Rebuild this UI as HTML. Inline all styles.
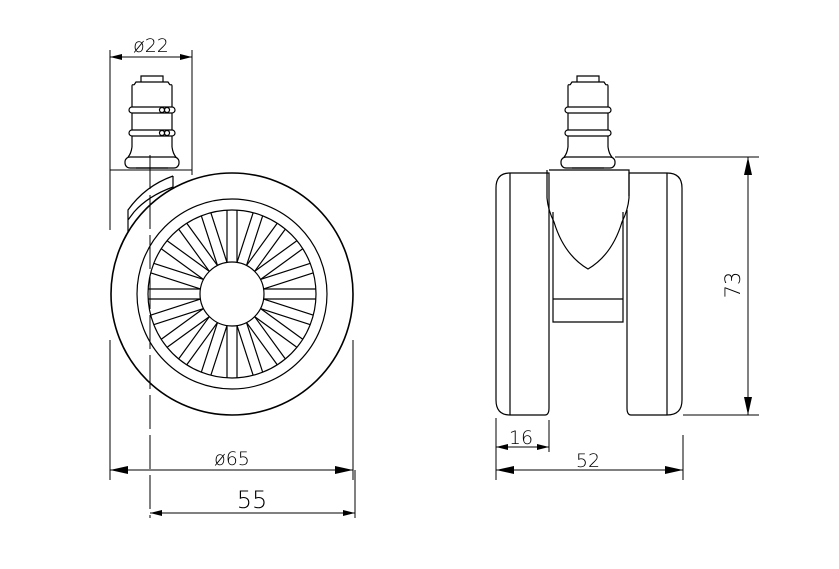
<!DOCTYPE html>
<html><head><meta charset="utf-8"><style>
html,body{margin:0;padding:0;background:#fff;}
svg{display:block;}
text{font-family:"DejaVu Sans","Liberation Sans",sans-serif;fill:#000;font-weight:200;}
</style></head><body>
<svg width="839" height="569" viewBox="0 0 839 569" xmlns="http://www.w3.org/2000/svg">
<defs>
<marker id="ar" viewBox="0 0 12 6" refX="12" refY="3" markerWidth="12" markerHeight="6" orient="auto-start-reverse" markerUnits="userSpaceOnUse"><path d="M0,0 L12,3 L0,6 z" fill="#000"/></marker>
<marker id="ar2" viewBox="0 0 18 8" refX="18" refY="4" markerWidth="18" markerHeight="8" orient="auto-start-reverse" markerUnits="userSpaceOnUse"><path d="M0,0 L18,4 L0,8 z" fill="#000"/></marker>
<g id="sp"><line x1="-5" y1="-32" x2="-5" y2="-84"/><line x1="5" y1="-32" x2="5" y2="-84"/></g>
<g id="stem">
<path d="M-11,82 L-11,76 L11,76 L11,82"/>
<path d="M-18,85 L-16,82 L16,82 L18,85"/>
<path d="M-20,86 L-20,107 M20,86 L20,107 M-20,113 L-20,130 M20,113 L20,130 M-20,136 L-20,147 M20,136 L20,147"/>
<path d="M-20,86 Q-20,84 -18,85 M20,86 Q20,84 18,85"/>
<rect x="-23" y="107" width="46" height="6" rx="3"/>
<rect x="-23" y="130" width="46" height="6" rx="3"/>
<path d="M-20,147 Q-21,154 -24,157 M20,147 Q21,154 24,157"/>
<rect x="-27" y="157" width="54" height="11" rx="5"/>
<line x1="-16" y1="168" x2="16" y2="168"/>
</g>
</defs>
<g fill="none" stroke="#000" stroke-width="1.2">
<use href="#stem" transform="translate(152,0)"/>
<circle cx="162" cy="110" r="2.5"/><circle cx="167" cy="110" r="2.5"/>
<circle cx="162" cy="133" r="2.5"/><circle cx="167" cy="133" r="2.5"/>
<line x1="110" y1="50" x2="110" y2="175" stroke-width="1"/>
<line x1="192" y1="50" x2="192" y2="175" stroke-width="1"/>
<line x1="110" y1="57" x2="192" y2="57" stroke-width="1" marker-start="url(#ar)" marker-end="url(#ar)"/>
<line x1="110" y1="170" x2="192" y2="170" stroke-width="1"/>
<path d="M173,176 L173,187 Q148,196 134,212 L128,220 L128,232 M173,176 Q145,186 128,210 L128,220"/>
<circle cx="232" cy="294" r="121" stroke-width="1.6"/>
<circle cx="232" cy="294" r="95"/>
<circle cx="232" cy="294" r="84"/>
<circle cx="232" cy="294" r="32"/>
<g transform="translate(232,294)">
<use href="#sp"/><use href="#sp" transform="rotate(18)"/><use href="#sp" transform="rotate(36)"/><use href="#sp" transform="rotate(54)"/><use href="#sp" transform="rotate(72)"/><use href="#sp" transform="rotate(90)"/><use href="#sp" transform="rotate(108)"/><use href="#sp" transform="rotate(126)"/><use href="#sp" transform="rotate(144)"/><use href="#sp" transform="rotate(162)"/><use href="#sp" transform="rotate(180)"/><use href="#sp" transform="rotate(198)"/><use href="#sp" transform="rotate(216)"/><use href="#sp" transform="rotate(234)"/><use href="#sp" transform="rotate(252)"/><use href="#sp" transform="rotate(270)"/><use href="#sp" transform="rotate(288)"/><use href="#sp" transform="rotate(306)"/><use href="#sp" transform="rotate(324)"/><use href="#sp" transform="rotate(342)"/>
</g>
<line x1="110" y1="175" x2="110" y2="230" stroke-width="1"/>
<line x1="110" y1="340" x2="110" y2="480" stroke-width="1"/>
<line x1="353" y1="340" x2="353" y2="480" stroke-width="1"/>
<line x1="355" y1="470" x2="355" y2="518" stroke-width="1"/>
<line x1="150" y1="155" x2="150" y2="518" stroke-width="1" stroke-dasharray="34,6"/>
<line x1="110" y1="470" x2="353" y2="470" stroke-width="1" marker-start="url(#ar2)" marker-end="url(#ar2)"/>
<line x1="150" y1="513" x2="355" y2="513" stroke-width="1" marker-start="url(#ar)" marker-end="url(#ar)"/>
<use href="#stem" transform="translate(588,0)"/>
<path d="M510,173 L549,173 L549,408 Q549,415 545,415 L510,415 Q496,415 496,400 L496,188 Q496,173 510,173 Z"/>
<line x1="510" y1="173" x2="510" y2="415"/>
<path d="M667,173 L629,173 L629,196 M627,210 L627,408 Q627,415 631,415 L667,415 Q682,415 682,400 L682,188 Q682,173 667,173"/>
<line x1="667" y1="173" x2="667" y2="415"/>
<path d="M549,170 L629,170 L629,198 Q628,210 622,222 Q612,255 588,269 Q564,255 554,222 Q548,210 547,198 L547,170"/>
<path d="M553,212 L553,322 L623,322 L623,212 M553,299 L623,299"/>
<line x1="615" y1="157" x2="759" y2="157" stroke-width="1"/>
<line x1="683" y1="415" x2="759" y2="415" stroke-width="1"/>
<line x1="748" y1="157" x2="748" y2="415" stroke-width="1" marker-start="url(#ar2)" marker-end="url(#ar2)"/>
<line x1="496" y1="418" x2="496" y2="480" stroke-width="1"/>
<line x1="549" y1="420" x2="549" y2="452" stroke-width="1"/>
<line x1="683" y1="435" x2="683" y2="480" stroke-width="1"/>
<line x1="496" y1="447" x2="549" y2="447" stroke-width="1" marker-start="url(#ar)" marker-end="url(#ar)"/>
<line x1="496" y1="470" x2="683" y2="470" stroke-width="1" marker-start="url(#ar2)" marker-end="url(#ar2)"/>
</g>
<g font-size="19">
<text x="151" y="52" text-anchor="middle">ø22</text>
<text x="232" y="465" text-anchor="middle">ø65</text>
<text x="252" y="508" text-anchor="middle" font-size="24">55</text>
<text x="521" y="444" text-anchor="middle">16</text>
<text x="588" y="467" text-anchor="middle">52</text>
<text transform="translate(740,285) rotate(-90)" text-anchor="middle" font-size="21">73</text>
</g>
</svg>
</body></html>
